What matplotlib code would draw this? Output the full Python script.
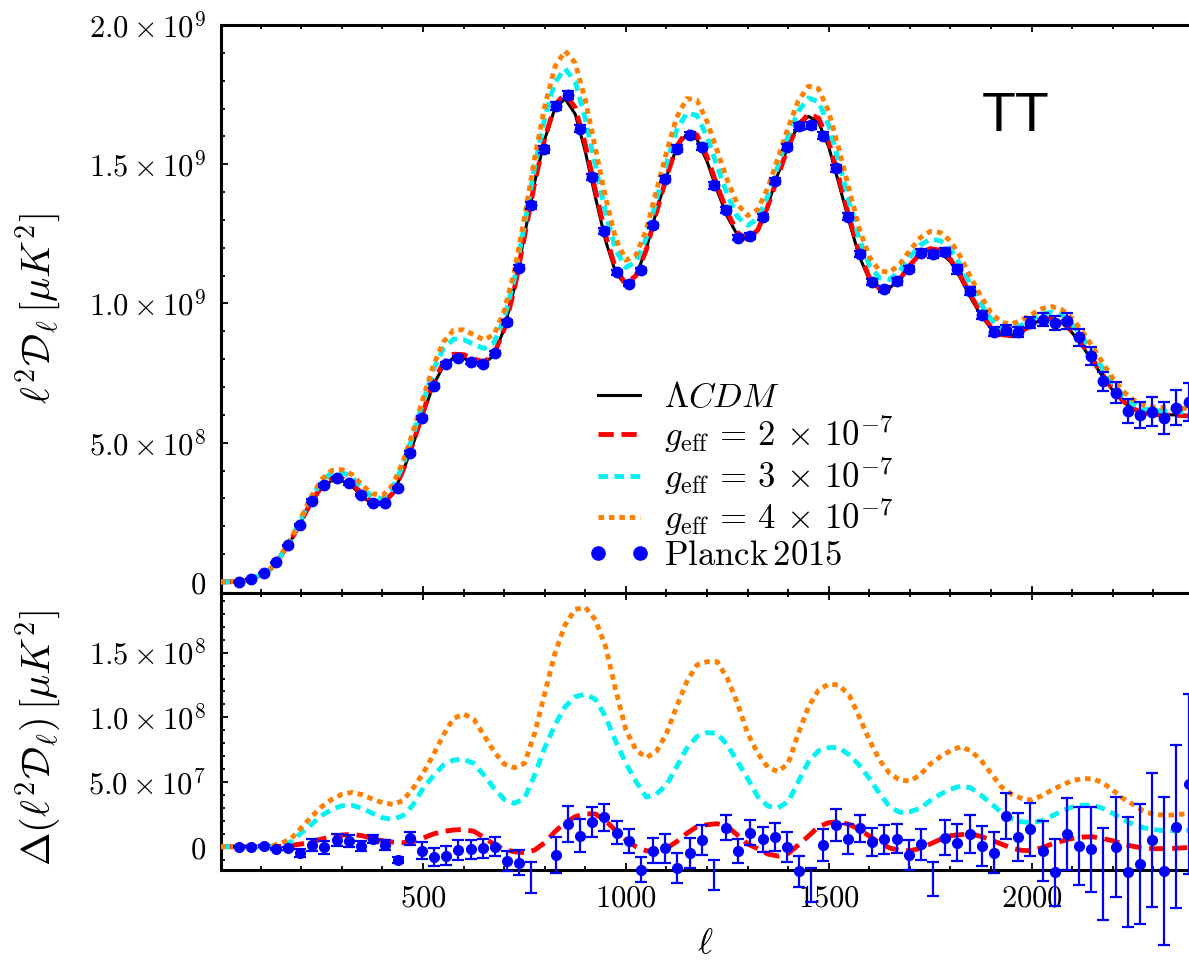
import numpy as np
import matplotlib.pyplot as plt
from matplotlib.lines import Line2D
from matplotlib.ticker import FixedLocator, MultipleLocator, FuncFormatter

plt.rcParams['mathtext.fontset'] = 'cm'
plt.rcParams['font.family'] = 'serif'
plt.rcParams['font.serif'] = ['DejaVu Serif']
plt.rcParams['lines.scale_dashes'] = False

# model curves, read on a grid of 25 in ell
ell_model = np.arange(0, 2401, 25)
# LCDM  l^2 D_l  [1e9 muK^2]
lcdm = np.array([
    0.0, 0.001, 0.003, 0.010, 0.025, 0.048, 0.095, 0.150, 0.218, 0.285,
    0.338, 0.364, 0.363, 0.344, 0.307, 0.280, 0.277, 0.315, 0.395, 0.493,
    0.603, 0.706, 0.775, 0.805, 0.803, 0.789, 0.783, 0.815, 0.910, 1.055,
    1.245, 1.435, 1.590, 1.700, 1.735, 1.680, 1.545, 1.380, 1.225, 1.110,
    1.065, 1.100, 1.195, 1.330, 1.455, 1.560, 1.608, 1.590, 1.510, 1.405,
    1.312, 1.245, 1.228, 1.265, 1.355, 1.465, 1.568, 1.640, 1.672, 1.650,
    1.562, 1.430, 1.295, 1.170, 1.085, 1.050, 1.055, 1.090, 1.140, 1.180,
    1.195, 1.185, 1.150, 1.090, 1.020, 0.958, 0.910, 0.886, 0.885, 0.903,
    0.925, 0.942, 0.945, 0.930, 0.895, 0.847, 0.793, 0.738, 0.688, 0.648,
    0.622, 0.608, 0.603, 0.601, 0.600, 0.598, 0.596])
# differences to LCDM [1e7 muK^2]
d_g2 = np.array([
    0, 0, 0, 0, 0, 0, 0.03, 0.10, 0.21, 0.39,
    0.59, 0.77, 0.90, 0.95, 0.85, 0.64, 0.46, 0.36, 0.31, 0.39,
    0.67, 0.98, 1.19, 1.29, 1.34, 1.19, 0.72, 0.18, -0.21, -0.39,
    -0.46, -0.26, 0.31, 1.16, 1.86, 2.32, 2.55, 2.53, 2.01, 1.24,
    0.52, 0.0, -0.31, -0.39, -0.13, 0.39, 1.03, 1.55, 1.70, 1.78,
    1.55, 0.90, 0.21, -0.15, -0.57, -0.72, -0.52, 0.13, 0.82, 1.55,
    1.86, 1.93, 1.73, 1.34, 0.82, 0.31, -0.10, -0.28, -0.31, -0.13,
    0.21, 0.57, 0.85, 0.93, 0.98, 0.80, 0.52, 0.21, -0.10, -0.28,
    -0.31, -0.08, 0.21, 0.44, 0.64, 0.75, 0.77, 0.64, 0.46, 0.21,
    0.03, -0.10, -0.15, -0.15, -0.13, -0.08, -0.05])
d_g3 = np.array([
    0, 0, 0, 0, 0, 0, 0.08, 0.39, 1.08, 1.73,
    2.40, 2.89, 3.17, 3.20, 2.97, 2.58, 2.24, 2.11, 2.40, 3.22,
    4.51, 5.46, 6.31, 6.70, 6.75, 6.44, 5.54, 4.51, 3.66, 3.35,
    3.74, 5.54, 7.66, 9.41, 10.82, 11.60, 11.78, 11.39, 10.05, 8.12,
    6.44, 5.03, 3.84, 4.07, 4.77, 6.19, 7.60, 8.51, 8.82, 8.76,
    7.86, 6.57, 5.28, 3.87, 3.14, 3.01, 3.48, 5.03, 6.57, 7.42,
    7.66, 7.66, 7.11, 6.31, 5.28, 4.12, 3.09, 2.66, 2.71, 2.96,
    3.56, 4.05, 4.45, 4.69, 4.55, 4.00, 3.35, 2.66, 2.19, 1.93,
    1.86, 2.01, 2.37, 2.78, 3.07, 3.20, 3.22, 2.97, 2.58, 2.11,
    1.73, 1.47, 1.34, 1.24, 1.24, 1.26, 1.29])
d_g4 = np.array([
    0, 0, 0, 0, 0, 0.05, 0.26, 0.64, 1.47, 2.32,
    3.09, 3.66, 4.05, 4.20, 4.02, 3.69, 3.40, 3.27, 3.56, 4.51,
    5.67, 7.09, 8.63, 9.92, 10.26, 9.85, 8.63, 7.35, 6.39, 6.11,
    6.44, 8.76, 11.86, 14.95, 17.14, 18.35, 18.51, 17.53, 15.46, 12.11,
    9.02, 7.47, 6.88, 7.35, 8.76, 10.82, 12.76, 14.05, 14.30, 14.30,
    13.02, 11.08, 8.76, 7.22, 6.13, 5.80, 6.44, 8.76, 10.82, 12.11,
    12.58, 12.50, 11.73, 10.05, 8.25, 6.70, 5.67, 5.15, 5.08, 5.54,
    6.39, 6.96, 7.42, 7.73, 7.42, 6.70, 5.67, 4.64, 4.07, 3.74,
    3.61, 3.94, 4.38, 4.77, 5.10, 5.26, 5.26, 4.95, 4.38, 3.74,
    3.27, 2.78, 2.50, 2.45, 2.45, 2.53, 2.58])

# Planck 2015 binned TT, bins of 30 in ell
ell_planck = np.arange(47, 2388, 30)
planck_tt = np.array([  # [1e9 muK^2]
    0.000, 0.010, 0.031, 0.070, 0.132, 0.205, 0.292, 0.347, 0.373, 0.354,
    0.311, 0.283, 0.285, 0.337, 0.464, 0.590, 0.705, 0.782, 0.804, 0.791,
    0.782, 0.822, 0.932, 1.129, 1.353, 1.553, 1.710, 1.747, 1.627, 1.454,
    1.261, 1.112, 1.070, 1.119, 1.280, 1.448, 1.556, 1.605, 1.562, 1.424,
    1.335, 1.236, 1.242, 1.310, 1.439, 1.562, 1.636, 1.640, 1.603, 1.485,
    1.312, 1.177, 1.076, 1.052, 1.079, 1.123, 1.183, 1.177, 1.185, 1.122,
    1.044, 0.959, 0.898, 0.904, 0.898, 0.931, 0.941, 0.929, 0.937, 0.879,
    0.812, 0.720, 0.680, 0.615, 0.600, 0.611, 0.590, 0.625, 0.646])
planck_res = np.array([  # [1e7 muK^2]
    0, 0, 0.05, -0.15, -0.13, -0.46, 0.13, -0.05, 0.52, 0.44,
    0.08, 0.57, 0.10, -1.03, 0.64, -0.31, -0.77, -0.70, -0.26, -0.21,
    -0.13, 0.0, -1.11, -1.24, -2.37, np.nan, -0.64, 1.75, 0.85, 1.91,
    2.27, 1.08, 0.44, -1.78, -0.31, -0.13, -1.68, -0.52, 0.52, -2.16,
    1.47, -0.34, 1.08, 0.57, 0.77, 0.0, -1.91, -2.97, 0.13, 1.68,
    0.57, 1.42, 0.34, 0.57, 0.62, -0.64, 0.18, -2.47, 0.70, 0.31,
    0.98, 0.05, -0.46, 2.37, 0.72, 1.34, -0.31, -1.98, 0.98, 0.05,
    -0.21, -2.11, 0.0, -1.93, -1.34, 0.52, -1.91, 1.55, 4.82])
planck_err = np.array([  # [1e7 muK^2]
    0.05, 0.05, 0.05, 0.08, 0.10, 0.31, 0.44, 0.52, 0.46, 0.46,
    0.39, 0.31, 0.39, 0.26, 0.52, 0.64, 0.70, 0.72, 0.77, 0.72,
    0.72, 0.72, 0.77, 0.98, 1.21, 1.30, 1.42, 1.42, 1.29, 1.16,
    1.03, 0.90, 0.90, 0.95, 0.98, 1.11, 1.16, 1.16, 1.16, 1.16,
    0.98, 0.95, 0.98, 0.98, 1.08, 1.16, 1.19, 1.29, 1.24, 1.21,
    1.16, 1.03, 1.08, 1.11, 1.11, 1.16, 1.21, 1.31, 1.37, 1.44,
    1.47, 1.55, 1.60, 1.75, 1.86, 2.06, 2.32, 2.58, 2.78, 3.04,
    3.30, 3.56, 3.87, 4.25, 4.64, 5.15, 5.72, 6.31, 6.96])

labels = [r'$\Lambda CDM$',
          r'$g_{\rm eff}\,=\,2\,\times\,10^{-7}$',
          r'$g_{\rm eff}\,=\,3\,\times\,10^{-7}$',
          r'$g_{\rm eff}\,=\,4\,\times\,10^{-7}$',
          r'$\mathrm{Planck\,2015}$']

red_ls = (0, (11, 5.5))
cyan_ls = (0, (7, 4.5))
orange_ls = (0, (4, 3.5))
orange = (1.0, 0.5, 0.0)
cyan = (0.0, 0.95, 0.95)

fig = plt.figure(figsize=(11.89, 9.6), dpi=100)
ax1 = fig.add_axes([0.1859, 0.3823, 0.8141, 0.5917])
ax2 = fig.add_axes([0.1859, 0.09375, 0.8141, 0.2885], sharex=ax1)

# top panel
h0, = ax1.plot(ell_model, lcdm * 1e9, color='black', lw=2.2, zorder=2)
h1, = ax1.plot(ell_model, lcdm * 1e9 + d_g2 * 1e7, color='red', lw=3.5, ls=red_ls, zorder=3)
h2, = ax1.plot(ell_model, lcdm * 1e9 + d_g3 * 1e7, color=cyan, lw=3.5, ls=cyan_ls, zorder=3)
h3, = ax1.plot(ell_model, lcdm * 1e9 + d_g4 * 1e7, color=orange, lw=3.5, ls=orange_ls, zorder=3)
ax1.errorbar(ell_planck, planck_tt * 1e9, yerr=planck_err * 1e7, fmt='none', ecolor='blue',
             elinewidth=1.6, capsize=4, capthick=1.6, zorder=5)
ax1.plot(ell_planck, planck_tt * 1e9, 'o', color='blue', ms=7.5, zorder=6)

# bottom panel
ax2.plot(ell_model, d_g2 * 1e7, color='red', lw=3.5, ls=red_ls, zorder=3)
ax2.plot(ell_model, d_g3 * 1e7, color=cyan, lw=3.5, ls=cyan_ls, zorder=3)
ax2.plot(ell_model, d_g4 * 1e7, color=orange, lw=3.5, ls=orange_ls, zorder=3)
eb = ax2.errorbar(ell_planck, planck_res * 1e7, yerr=planck_err * 1e7, fmt='none',
                  ecolor='blue', elinewidth=1.6, capsize=4, capthick=1.6, zorder=5)
for art in list(eb.lines[1]) + list(eb.lines[2]):
    art.set_clip_on(False)
res_shown = np.where(planck_res > -2.0, planck_res, np.nan)
ax2.plot(ell_planck, res_shown * 1e7, 'o', color='blue', ms=7, clip_on=False, zorder=6)

ax1.set_xlim(2, 2388)
ax1.set_ylim(-0.0395e9, 2.0e9)
ax2.set_ylim(-1.8e7, 1.961e8)


def sci(v, pos):
    if abs(v) < 1:
        return '$0$'
    e = int(np.floor(np.log10(abs(v)) + 1e-9))
    return r'$%.1f\times10^{%d}$' % (v / 10 ** e, e)


ax1.yaxis.set_major_locator(FixedLocator([0, 5e8, 1e9, 1.5e9, 2e9]))
ax1.yaxis.set_minor_locator(MultipleLocator(1e8))
ax2.yaxis.set_major_locator(FixedLocator([0, 5e7, 1e8, 1.5e8]))
ax2.yaxis.set_minor_locator(MultipleLocator(1e7))
for ax in (ax1, ax2):
    ax.yaxis.set_major_formatter(FuncFormatter(sci))
    ax.xaxis.set_major_locator(FixedLocator([500, 1000, 1500, 2000]))
    ax.xaxis.set_minor_locator(MultipleLocator(100))
    ax.xaxis.set_major_formatter(FuncFormatter(lambda v, p: '$%d$' % v))
    ax.tick_params(which='both', direction='in', top=True, right=False,
                   width=1.3, labelsize=22)
    ax.tick_params(which='major', length=5)
    ax.tick_params(which='minor', length=3)
    ax.tick_params(axis='y', pad=11)
    ax.tick_params(axis='x', pad=9)
    for s in ax.spines.values():
        s.set_linewidth(2.2)
    ax.spines['right'].set_visible(False)
ax1.tick_params(labelbottom=False)

fig.text(38 / 1189, 1 - 309 / 960, r'$\ell^2\mathcal{D}_\ell\,[\mu K^2]$',
         rotation=90, ha='center', va='center', fontsize=29)
fig.text(38 / 1189, 1 - 738 / 960, r'$\Delta(\ell^2\mathcal{D}_\ell)\,[\mu K^2]$',
         rotation=90, ha='center', va='center', fontsize=29)
fig.text(705 / 1189, 1 - 953 / 960, r'$\ell$', ha='center', va='baseline', fontsize=26)
fig.text(1016 / 1189, 1 - 117 / 960, 'TT', ha='center', va='center',
         fontsize=40, family='Liberation Sans')

hp = Line2D([], [], marker='o', ls='none', color='blue', ms=9.5)
ax1.legend([h0, h1, h2, h3, hp], labels, loc='upper left',
           bbox_to_anchor=(588 / 1189, 1 - 380 / 960), bbox_transform=fig.transFigure,
           frameon=False, fontsize=25, numpoints=2, handlelength=1.8,
           handletextpad=0.4, labelspacing=0.0, borderpad=0, borderaxespad=0)

fig.savefig('out.png', dpi=100)
